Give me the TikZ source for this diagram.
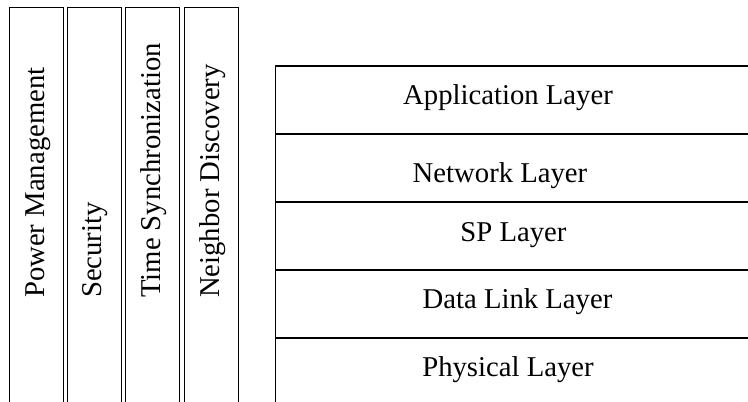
\documentclass[tikz,border=0pt]{standalone}
\usepackage{fontspec}
\setmainfont{Liberation Serif}
\begin{document}
\begin{tikzpicture}[x=1pt,y=1pt,
  colline/.style={draw=black,line width=1pt},
  layline/.style={draw=black,line width=1.3pt},
  lbl/.style={inner sep=0pt,font=\fontsize{28.7}{34}\selectfont},
  vlbl/.style={lbl,rotate=90,anchor=base west}]
\clip (0,0) rectangle (748,402);
\fill[white] (0,0) rectangle (748,402);
% side columns (open at the bottom)
\draw[colline] (9.5,-10) -- (9.5,394) -- (63,394) -- (63,-10);
\draw[colline] (67.5,-10) -- (67.5,394) -- (121,394) -- (121,-10);
\draw[colline] (125.5,-10) -- (125.5,394) -- (179.5,394) -- (179.5,-10);
\draw[colline] (184,-10) -- (184,394) -- (238,394) -- (238,-10);
\node[vlbl] (pm) at (44.3,104) {Power Management};
\node[vlbl] (sec) at (101,104) {Security};
\node[vlbl] (ts) at (160.7,104) {Time Synchronization};
\node[vlbl] (nd) at (219,104) {Neighbor Discovery};
% layer stack
\draw[layline] (275.5,-10) -- (275.5,336) -- (760,336);
\draw[layline] (275.5,268) -- (760,268);
\draw[layline] (275.5,200) -- (760,200);
\draw[layline] (275.5,132) -- (760,132);
\draw[layline] (275.5,64) -- (760,64);
\node[lbl,anchor=base] (app) at (508,297) {Application Layer};
\node[lbl,anchor=base] (net) at (500,219) {Network Layer};
\node[lbl,anchor=base] (sp) at (513.5,160.3) {SP Layer};
\node[lbl,anchor=base] (dl) at (517.5,93) {Data Link Layer};
\node[lbl,anchor=base] (phy) at (508,25.3) {Physical Layer};
\end{tikzpicture}
\end{document}
